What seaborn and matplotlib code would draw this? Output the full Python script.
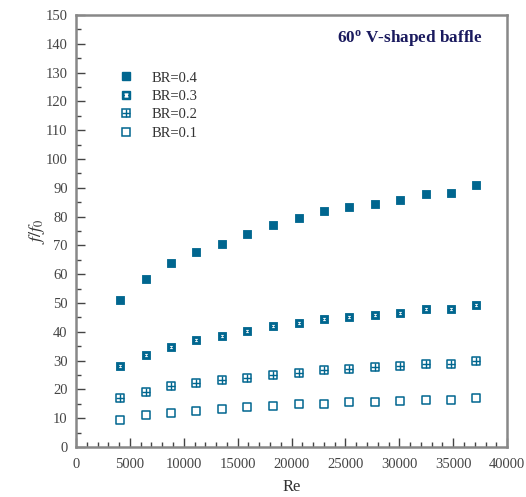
import numpy as np
import pandas as pd
import seaborn as sns
import matplotlib.pyplot as plt
from matplotlib.path import Path
from matplotlib.lines import Line2D
from matplotlib.ticker import MultipleLocator

re_vals = [4100, 6500, 8800, 11150, 13550, 15900, 18300, 20650, 23000,
           25350, 27700, 30100, 32450, 34800, 37150]
br04 = [51.0, 58.4, 63.8, 67.7, 70.5, 73.8, 77.2, 79.4, 81.8, 83.2, 84.4, 85.9, 88.0, 88.1, 91.0]
br03 = [28.1, 32.0, 34.7, 37.0, 38.6, 40.1, 42.0, 43.2, 44.5, 45.2, 45.7, 46.6, 47.8, 47.8, 49.4]
br02 = [16.9, 19.1, 21.1, 22.2, 23.2, 24.0, 25.1, 25.8, 26.7, 27.0, 27.6, 28.2, 28.7, 28.7, 29.8]
br01 = [9.5, 11.0, 11.9, 12.5, 13.1, 13.8, 14.1, 14.8, 15.0, 15.5, 15.7, 15.8, 16.4, 16.4, 17.0]
labels = ["BR=0.4", "BR=0.3", "BR=0.2", "BR=0.1"]

sns.set_style("ticks")
plt.rcParams['font.family'] = ['Liberation Serif', 'DejaVu Serif']
plt.rcParams['mathtext.fontset'] = 'stix'

C = "#00668F"
df = pd.DataFrame({"Re": re_vals, "b4": br04, "b3": br03, "b2": br02, "b1": br01})

fig = plt.figure(figsize=(5.26, 4.97), dpi=100)
ax = fig.add_axes([0.1445, 0.1006, 0.8195, 0.8694])

ms = 6.0
s = ms ** 2
hour = Path([(-1, 1), (1, 1), (-1, -1), (1, -1), (-1, 1)],
            [Path.MOVETO, Path.LINETO, Path.LINETO, Path.LINETO, Path.CLOSEPOLY])

sns.scatterplot(data=df, x="Re", y="b4", marker="s", s=s, color=C, edgecolor=C, linewidth=0.6, ax=ax)
sns.scatterplot(data=df, x="Re", y="b3", marker="s", s=s, color=C, edgecolor=C, linewidth=0.6, ax=ax)
sns.scatterplot(data=df, x="Re", y="b3", marker=hour, s=s * 0.12, color="white", edgecolor="white", linewidth=0.2, ax=ax)
sns.scatterplot(data=df, x="Re", y="b2", marker="s", s=s, color="white", edgecolor=C, linewidth=1.1, ax=ax)
sns.scatterplot(data=df, x="Re", y="b2", marker="+", s=s, color=C, linewidth=1.0, ax=ax)
sns.scatterplot(data=df, x="Re", y="b1", marker="s", s=s, color="white", edgecolor=C, linewidth=1.1, ax=ax)

ax.set_xlim(0, 40000)
ax.set_ylim(0, 150)
ax.xaxis.set_major_locator(MultipleLocator(5000))
ax.xaxis.set_minor_locator(MultipleLocator(1000))
ax.yaxis.set_major_locator(MultipleLocator(10))
ax.yaxis.set_minor_locator(MultipleLocator(5))
ax.tick_params(which='both', direction='in', colors='#444444', labelcolor='#444444',
               labelsize=10.5, width=1.0)
ax.tick_params(which='major', length=6.5)
ax.tick_params(which='minor', length=3.5)
ax.tick_params(axis='x', which='major', pad=8)
ax.tick_params(axis='y', which='major', pad=6)
for sp in ax.spines.values():
    sp.set_color('#888888')
    sp.set_linewidth(1.8)

ax.set_xlabel("Re", fontsize=12, color='#333333', labelpad=6)
ax.set_ylabel(r"$f/f_0$", fontsize=13, color='#333333', labelpad=-1)

ax.text(0.944, 0.945, r"60$^\mathregular{o}$ V-shaped baffle", transform=ax.transAxes,
        ha='right', va='center', fontsize=12.3, fontweight='bold', color='#1a1a5e')

h4 = Line2D([], [], ls='', marker='s', ms=ms, color=C)
h3a = Line2D([], [], ls='', marker='s', ms=ms, color=C)
h3b = Line2D([], [], ls='', marker=hour, ms=ms * 0.35, color='white')
h2a = Line2D([], [], ls='', marker='s', ms=ms, mfc='white', mec=C, mew=1.1)
h2b = Line2D([], [], ls='', marker='+', ms=ms, color=C, mew=1.0)
h1 = Line2D([], [], ls='', marker='s', ms=ms, mfc='white', mec=C, mew=1.1)
ax.legend([h4, (h3a, h3b), (h2a, h2b), h1], labels, loc='upper left',
          bbox_to_anchor=(0.067, 0.893), frameon=False, fontsize=10.5,
          handletextpad=1.0, labelspacing=0.36, handlelength=1.5,
          labelcolor='#333333', borderaxespad=0.3)

fig.savefig("out.png", dpi=100)
